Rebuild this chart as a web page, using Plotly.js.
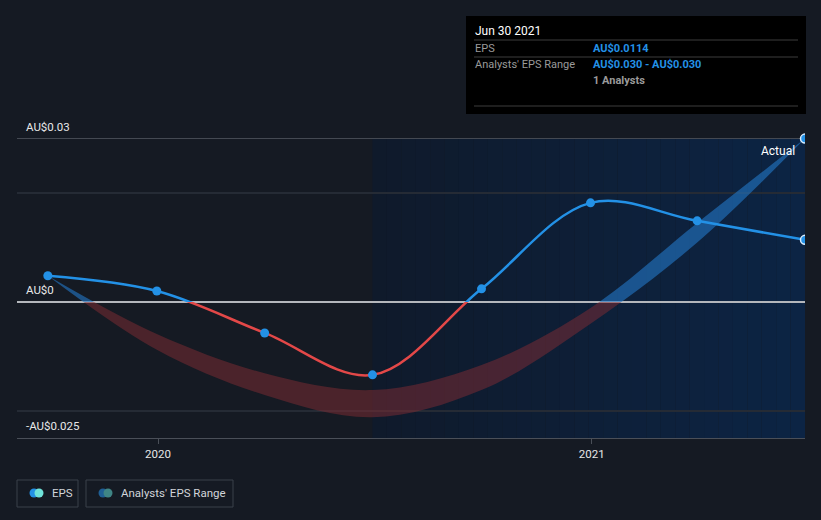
<!DOCTYPE html>
<html>
<head>
<meta charset="utf-8">
<script src="https://cdn.plot.ly/plotly-3.0.1.min.js"></script>
<style>
  html, body { margin: 0; padding: 0; background: #151a23; }
  #chart { width: 821px; height: 520px; }
</style>
</head>
<body>
<div id="chart"></div>
<script>
// datos (trimestres, EPS en AU$)
const quarters = ['2019-09-30', '2019-12-31', '2020-03-31', '2020-06-30',
                  '2020-09-30', '2020-12-31', '2021-03-31', '2021-06-30'];
const epsValues = [0.0048, 0.0020, -0.0057, -0.0134, 0.0024, 0.0182, 0.0149, 0.0114];
const rangeHigh = [0.0048, -0.0059, -0.0131, -0.0162, -0.0116, -0.0011, 0.0145, 0.030];
const rangeLow  = [0.0048, -0.0088, -0.0171, -0.0212, -0.0162, -0.0040, 0.0109, 0.030];

const yTickVals = [-0.025, 0, 0.03];
const yTickText = ['-AU$0.025', 'AU$0', 'AU$0.03'];
const yMinorVals = [-0.02, 0.02];
const xTickVals = ['2020-01-01', '2021-01-01'];
const xTickText = ['2020', '2021'];
const forecastStart = '2020-06-30';

// geometría del lienzo
const W = 821, H = 520;
const M = { l: 17, r: 16, t: 125, b: 82 };
const yRange = [-0.025, 0.0325];
const xRange = ['2019-09-04', '2021-06-30'];
const split = (0 - yRange[0]) / (yRange[1] - yRange[0]); // fracción donde está el cero

const px = x => (x - M.l) / (W - M.l - M.r);
const py = y => 1 - (y - M.t) / (H - M.t - M.b);

const BLUE = '#2391e6';
const RED = '#e34848';
const FONT = 'Roboto, "Open Sans", sans-serif';

const spline = { shape: 'spline', smoothing: 1 };
const noLine = Object.assign({ width: 0, color: 'rgba(0,0,0,0)' }, spline);
const last = quarters.length - 1;

// marcadores separados por signo (cada grupo va en el subplot que no lo recorta)
const idxNeg = quarters.map((d, i) => i).filter(i => epsValues[i] < 0);
const idxPos = quarters.map((d, i) => i).filter(i => epsValues[i] >= 0);
const markerTrace = (idx, yaxis) => ({
  x: idx.map(i => quarters[i]), y: idx.map(i => epsValues[i]),
  xaxis: 'x', yaxis: yaxis, mode: 'markers', cliponaxis: true, hoverinfo: 'skip',
  marker: {
    size: 9, color: BLUE,
    line: { width: idx.map(i => i === last ? 1.5 : 0), color: '#d8ecff' }
  }
});

const traces = [
  // subplot principal (solo ejes / rejilla)
  { x: [], y: [], xaxis: 'x', yaxis: 'y', hoverinfo: 'skip' },

  // parte negativa (roja), recortada por el dominio de y2
  { x: quarters, y: rangeLow, xaxis: 'x', yaxis: 'y2', mode: 'lines', line: noLine, hoverinfo: 'skip' },
  { x: quarters, y: rangeHigh, xaxis: 'x', yaxis: 'y2', mode: 'lines', fill: 'tonexty',
    fillcolor: 'rgba(129,44,51,0.5)', line: noLine, hoverinfo: 'skip' },
  { x: quarters, y: epsValues, xaxis: 'x', yaxis: 'y2', mode: 'lines',
    line: Object.assign({ width: 2.5, color: RED }, spline), hoverinfo: 'skip' },
  markerTrace(idxNeg, 'y2'),

  // parte positiva (azul), recortada por el dominio de y3
  { x: quarters, y: rangeLow, xaxis: 'x', yaxis: 'y3', mode: 'lines', line: noLine, hoverinfo: 'skip' },
  { x: quarters, y: rangeHigh, xaxis: 'x', yaxis: 'y3', mode: 'lines', fill: 'tonexty',
    fillcolor: 'rgba(35,120,200,0.6)', line: noLine, hoverinfo: 'skip' },
  { x: quarters, y: epsValues, xaxis: 'x', yaxis: 'y3', mode: 'lines',
    line: Object.assign({ width: 2.5, color: BLUE }, spline), hoverinfo: 'skip' },
  markerTrace(idxPos, 'y3'),
  { x: quarters.slice(-1), y: rangeHigh.slice(-1), xaxis: 'x', yaxis: 'y3', mode: 'markers',
    cliponaxis: true, hoverinfo: 'skip',
    marker: { size: 9, color: BLUE, line: { width: 1.5, color: '#d8ecff' } } }
];

// fondo degradado de la zona de previsión
const shapes = [];
const t0 = new Date(forecastStart).getTime();
const t1 = new Date(xRange[1]).getTime();
const steps = 30;
for (let i = 0; i < steps; i++) {
  const f = i / (steps - 1);
  const r = Math.round(15 + (12 - 15) * f);
  const g = Math.round(26 + (36 - 26) * f);
  const b = Math.round(43 + (68 - 43) * f);
  shapes.push({
    type: 'rect', layer: 'below', xref: 'x', yref: 'y',
    x0: t0 + (t1 - t0) * i / steps, x1: t0 + (t1 - t0) * (i + 1) / steps + 1,
    y0: yRange[0], y1: 0.03,
    line: { width: 0 }, fillcolor: `rgb(${r},${g},${b})`
  });
}

// caja de tooltip
shapes.push({ type: 'rect', xref: 'paper', yref: 'paper', layer: 'above',
  x0: px(466), x1: px(806), y0: py(114), y1: py(16),
  fillcolor: '#000000', line: { width: 0 } });
[40, 57, 106].forEach(yy => shapes.push({
  type: 'line', xref: 'paper', yref: 'paper', layer: 'above',
  x0: px(474), x1: px(798), y0: py(yy), y1: py(yy),
  line: { color: '#3d3d3d', width: 1 }
}));

// leyenda (cajas + iconos)
const legendBoxes = [[17, 78], [86, 233]];
legendBoxes.forEach(([a, b]) => shapes.push({
  type: 'rect', xref: 'paper', yref: 'paper',
  x0: px(a), x1: px(b), y0: py(507), y1: py(480),
  line: { color: '#3b404a', width: 1 }, fillcolor: 'rgba(0,0,0,0)'
}));
const icons = [
  [34, '#2391e6'], [39, '#6fe3da'],
  [103, '#1f5f95'], [108, '#3f8585']
];
icons.forEach(([cx, col]) => shapes.push({
  type: 'circle', xref: 'paper', yref: 'paper',
  x0: px(cx - 4.5), x1: px(cx + 4.5), y0: py(497.5), y1: py(488.5),
  fillcolor: col, line: { width: 0 }
}));

const annotations = [];
// etiquetas del eje y, sobre la línea de rejilla
yTickVals.forEach((v, i) => annotations.push({
  xref: 'paper', yref: 'y', x: px(24), y: v, xanchor: 'left', yanchor: 'bottom',
  yshift: 3, text: yTickText[i], showarrow: false,
  font: { family: FONT, size: 11.5, color: '#e8e8e8' }
}));

annotations.push({
  xref: 'paper', yref: 'paper', x: px(797), y: py(151), xanchor: 'right', yanchor: 'middle',
  text: 'Actual', showarrow: false, font: { family: FONT, size: 12, color: '#ffffff' }
});

// texto del tooltip
const tip = (x, y, text, color, size, bold) => annotations.push({
  xref: 'paper', yref: 'paper', x: px(x), y: py(y), xanchor: 'left', yanchor: 'middle',
  text: bold ? `<b>${text}</b>` : text, showarrow: false,
  font: { family: FONT, size: size, color: color }
});
tip(473, 31, 'Jun 30 2021', '#ffffff', 12, false);
tip(473, 48, 'EPS', '#9a9a9a', 11, false);
tip(591, 48, 'AU$' + epsValues[last].toFixed(4), '#2391e6', 11, true);
tip(473, 65, "Analysts' EPS Range", '#9a9a9a', 11, false);
tip(591, 65, 'AU$' + rangeLow[last].toFixed(3) + ' - AU$' + rangeHigh[last].toFixed(3),
  '#2391e6', 11, true);
tip(591, 81, '1 Analysts', '#9a9a9a', 11, true);

// leyenda (texto)
annotations.push({
  xref: 'paper', yref: 'paper', x: px(50), y: py(493), xanchor: 'left', yanchor: 'middle',
  text: 'EPS', showarrow: false, font: { family: FONT, size: 11.5, color: '#d2d5da' }
});
annotations.push({
  xref: 'paper', yref: 'paper', x: px(119), y: py(493), xanchor: 'left', yanchor: 'middle',
  text: "Analysts' EPS Range", showarrow: false, font: { family: FONT, size: 11.5, color: '#d2d5da' }
});

const layout = {
  width: W, height: H,
  margin: M,
  paper_bgcolor: '#151a23',
  plot_bgcolor: 'rgba(0,0,0,0)',
  showlegend: false,
  hovermode: false,
  font: { family: FONT, color: '#e0e0e0' },
  xaxis: {
    type: 'date', range: xRange, anchor: 'y',
    showgrid: false, zeroline: false,
    showline: true, linecolor: '#4a4f58', linewidth: 1,
    ticks: 'outside', ticklen: 5, tickcolor: '#4a4f58',
    tickvals: xTickVals, ticktext: xTickText,
    tickfont: { family: FONT, size: 11.5, color: '#e6e6e6' }
  },
  yaxis: {
    range: yRange, domain: [0, 1], anchor: 'x',
    tickvals: yTickVals, showticklabels: false, ticks: '',
    showgrid: true, gridcolor: '#444952', gridwidth: 1,
    zeroline: true, zerolinecolor: '#b4b7bc', zerolinewidth: 1.5,
    minor: { tickvals: yMinorVals, showgrid: true, gridcolor: '#252b35', gridwidth: 1.5, ticks: '' }
  },
  yaxis2: {
    range: [yRange[0], 0], domain: [0, split], anchor: 'x', visible: false
  },
  yaxis3: {
    range: [0, yRange[1]], domain: [split, 1], anchor: 'x', visible: false
  },
  shapes,
  annotations
};

Plotly.newPlot('chart', traces, layout, { staticPlot: true, displayModeBar: false });
</script>
</body>
</html>
